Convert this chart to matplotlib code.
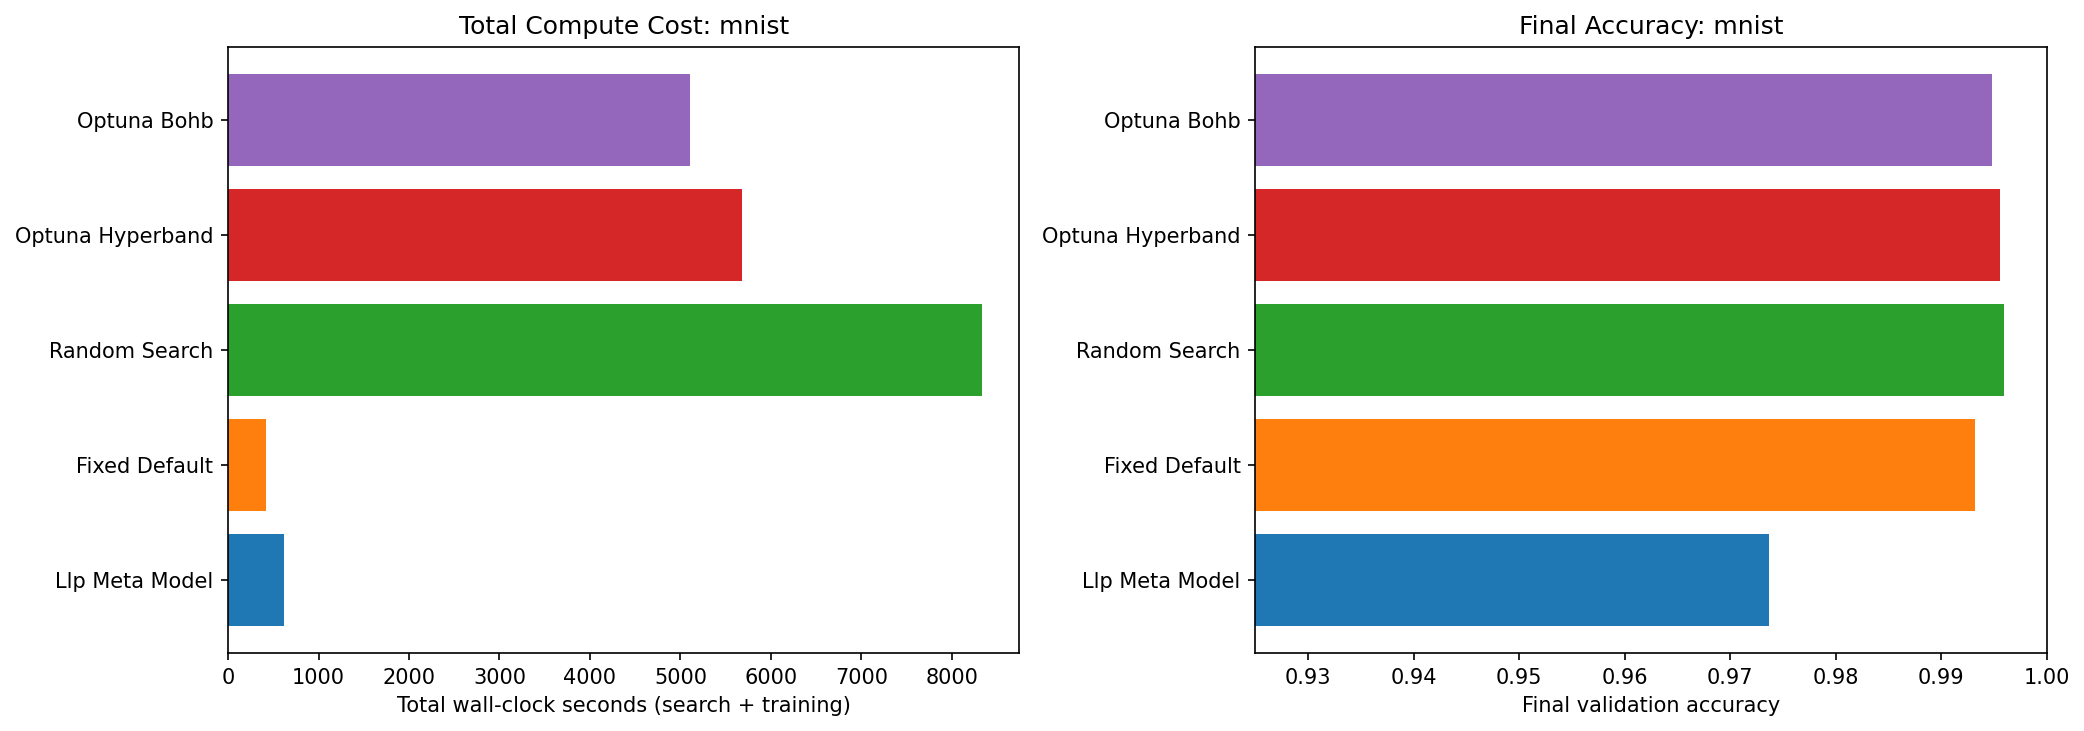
import matplotlib
matplotlib.use("Agg")
import matplotlib.pyplot as plt

DATASET = "mnist"
METHODS = ["Llp Meta Model", "Fixed Default", "Random Search", "Optuna Hyperband", "Optuna Bohb"]
COMPUTE_SECONDS = [615, 417, 8330, 5686, 5111]
FINAL_ACCURACY = [0.9737, 0.9932, 0.9960, 0.9956, 0.9948]
COLORS = ["#1f77b4", "#ff7f0e", "#2ca02c", "#d62728", "#9467bd"]


def main():
    fig, (ax_cost, ax_acc) = plt.subplots(1, 2, figsize=(14, 5))

    ax_cost.barh(METHODS, COMPUTE_SECONDS, color=COLORS)
    ax_cost.set_title(f"Total Compute Cost: {DATASET}")
    ax_cost.set_xlabel("Total wall-clock seconds (search + training)")

    ax_acc.barh(METHODS, FINAL_ACCURACY, color=COLORS)
    ax_acc.set_title(f"Final Accuracy: {DATASET}")
    ax_acc.set_xlabel("Final validation accuracy")
    ax_acc.set_xlim(0.925, 1.0)

    plt.tight_layout()
    plt.savefig("out.png", dpi=150, bbox_inches="tight")
    plt.close()


if __name__ == "__main__":
    main()
